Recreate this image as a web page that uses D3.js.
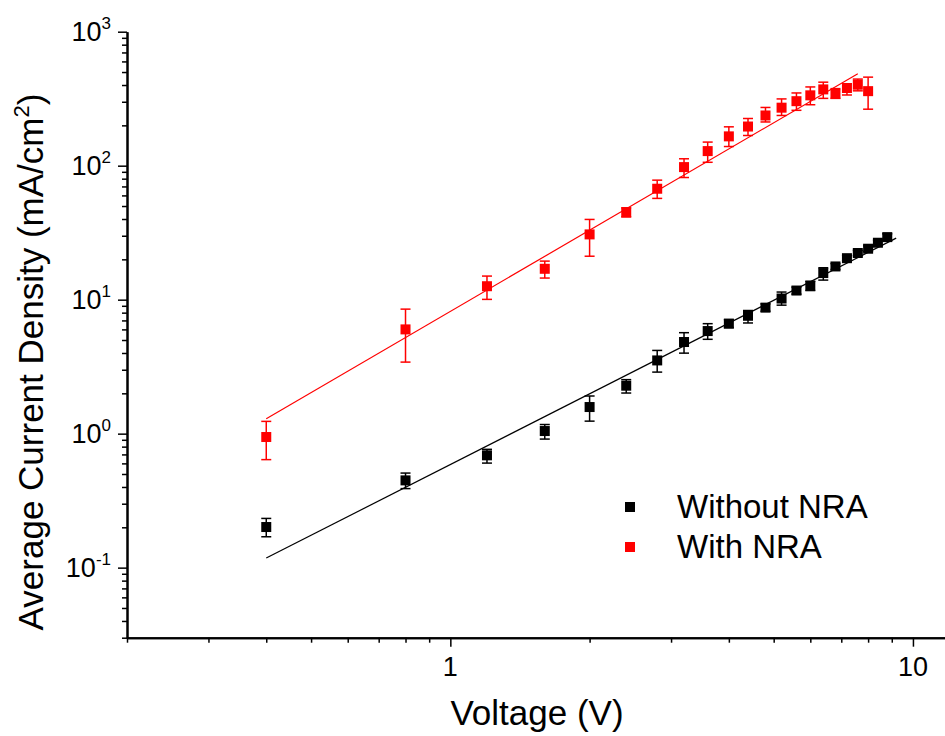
<!DOCTYPE html>
<html>
<head>
<meta charset="utf-8">
<script src="https://cdn.jsdelivr.net/npm/d3@7"></script>
<style>
  body { margin: 0; background: #fff; }
  svg { display: block; font-family: Arial, "Liberation Sans", sans-serif; }
</style>
</head>
<body>
<svg id="chart" width="945" height="736"></svg>
<script>
// voltage steps (V)
var voltsBlack = [0.4, 0.8, 1.2, 1.6, 2.0, 2.4, 2.8, 3.2, 3.6, 4.0, 4.4, 4.8, 5.2, 5.6, 6.0, 6.4, 6.8, 7.2, 7.6, 8.0, 8.4, 8.8];
var voltsRed = [0.4, 0.8, 1.2, 1.6, 2.0, 2.4, 2.8, 3.2, 3.6, 4.0, 4.4, 4.8, 5.2, 5.6, 6.0, 6.4, 6.8, 7.2, 7.6, 8.0];

// Without NRA (mA/cm2) and error bar ends
var jBlack   = [0.201, 0.448, 0.689, 1.046, 1.58, 2.28, 3.52, 4.83, 5.83, 6.62, 7.58, 8.72, 10.2, 11.7, 12.7, 15.8, 17.7, 20.4, 22.3, 24.0, 26.6, 29.3];
var jBlackHi = [0.233, 0.508, 0.764, 1.17, 1.91, 2.53, 4.18, 5.67, 6.62, 7.1, 8.3, 9.3, 11.4, 12.4, 13.7, 17.3, 18.6, 21.3, 23.3, 25.2, 27.8, 31.0];
var jBlackLo = [0.170, 0.389, 0.603, 0.911, 1.24, 2.01, 2.88, 3.99, 5.06, 6.2, 6.7, 8.2, 9.1, 11.0, 11.7, 14.0, 16.8, 19.5, 21.3, 22.9, 25.4, 27.6];

// With NRA
var jRed   = [0.944, 6.0, 12.6, 17.0, 30.7, 44.8, 67.3, 97.6, 128.5, 165.5, 196, 237, 271, 303, 335, 371, 344, 380, 402, 360];
var jRedHi = [1.235, 8.5, 15.0, 19.4, 39.7, 48.5, 78, 112.6, 150, 195, 225, 272, 315, 349, 387, 420, 376, 409, 443, 458];
var jRedLo = [0.64, 3.42, 10.05, 14.5, 21.1, 41.5, 57, 81.6, 106, 139, 168, 212, 237, 259, 285, 318, 318, 337, 362, 264];

// fitted lines (end points)
var fitBlack = [[0.4, 0.118], [9.2, 28.8]];
var fitRed = [[0.4, 1.29], [7.6, 486]];

var yMajor = [0.1, 1, 10, 100, 1000];
var xMajor = [1, 10];
var seriesNames = ['Without NRA', 'With NRA'];
var seriesColors = ['#000000', '#ff0000'];

var svg = d3.select('#chart');
var plotLeft = 127, plotTop = 31.7, plotBottom = 637.7;
var decadeX = 462.6;

var x = d3.scaleLog().domain([0.2, 12]).range([plotLeft, plotLeft + decadeX * Math.log10(60)]);
var y = d3.scaleLog().domain([0.03, 1000]).range([plotBottom, plotTop]);

function minorsOf(scale) {
    var d = scale.domain(), out = [];
    var lo = Math.floor(Math.log10(d[0])), hi = Math.ceil(Math.log10(d[1]));
    for (var e = lo; e < hi; e++) {
        for (var k = 2; k <= 9; k++) {
            var v = k * Math.pow(10, e);
            if (v >= d[0] * 0.999 && v <= d[1] * 1.001) out.push(v);
        }
    }
    return out;
}

function styleAxis(g) {
    g.select('.domain').attr('stroke', '#000').attr('stroke-width', 2);
    g.selectAll('.tick line').attr('stroke', '#000').attr('stroke-width', 1.5);
    g.selectAll('.tick text').remove();
}

// y axis
svg.append('g').attr('transform', 'translate(' + plotLeft + ',0)')
    .call(d3.axisLeft(y).tickValues(minorsOf(y)).tickSize(5).tickSizeOuter(0))
    .call(styleAxis);
svg.append('g').attr('transform', 'translate(' + plotLeft + ',0)')
    .call(d3.axisLeft(y).tickValues(yMajor).tickSize(9).tickSizeOuter(0))
    .call(styleAxis);

// x axis
svg.append('g').attr('transform', 'translate(0,' + plotBottom + ')')
    .call(d3.axisBottom(x).tickValues(minorsOf(x)).tickSize(5).tickSizeOuter(0))
    .call(styleAxis);
svg.append('g').attr('transform', 'translate(0,' + plotBottom + ')')
    .call(d3.axisBottom(x).tickValues(xMajor).tickSize(9).tickSizeOuter(0))
    .call(styleAxis);

// y tick labels 10^n
var yl = svg.selectAll('text.ylab').data(yMajor).enter().append('text')
    .attr('class', 'ylab')
    .attr('x', 111)
    .attr('y', function (d) { return y(d) + 9; })
    .attr('text-anchor', 'end')
    .attr('font-size', 27)
    .attr('fill', '#000');
yl.append('tspan').text('10');
yl.append('tspan').attr('font-size', 17).attr('dy', -12)
    .text(function (d) { return Math.round(Math.log10(d)); });

// x tick labels
svg.selectAll('text.xlab').data(xMajor).enter().append('text')
    .attr('class', 'xlab')
    .attr('x', function (d) { return x(d); })
    .attr('y', plotBottom + 38)
    .attr('text-anchor', 'middle')
    .attr('font-size', 27)
    .attr('fill', '#000')
    .text(function (d) { return d; });

// axis titles
svg.append('text')
    .attr('x', 537).attr('y', 725)
    .attr('text-anchor', 'middle')
    .attr('font-size', 35)
    .text('Voltage (V)');

var yt = svg.append('text')
    .attr('transform', 'translate(43,362) rotate(-90)')
    .attr('text-anchor', 'middle')
    .attr('font-size', 35);
yt.append('tspan').text('Average Current Density (mA/cm');
yt.append('tspan').attr('font-size', 22).attr('dy', -14).text('2');
yt.append('tspan').attr('dy', 14).text(')');

// fit lines
var line = d3.line()
    .x(function (d) { return x(d[0]); })
    .y(function (d) { return y(d[1]); });

svg.append('path').attr('d', line(fitBlack)).attr('stroke', seriesColors[0])
    .attr('stroke-width', 1.2).attr('fill', 'none');
svg.append('path').attr('d', line(fitRed)).attr('stroke', seriesColors[1])
    .attr('stroke-width', 1.2).attr('fill', 'none');

function drawSeries(volts, vals, hi, lo, color) {
    var pts = volts.map(function (v, i) {
        return {v: v, j: vals[i], hi: hi[i], lo: lo[i]};
    });
    var g = svg.append('g');
    var eb = g.selectAll('g.err').data(pts).enter().append('g').attr('class', 'err')
        .attr('stroke', color).attr('stroke-width', 1.5);
    eb.append('line')
        .attr('x1', function (d) { return x(d.v); })
        .attr('x2', function (d) { return x(d.v); })
        .attr('y1', function (d) { return y(d.hi); })
        .attr('y2', function (d) { return y(d.lo); });
    eb.append('line')
        .attr('x1', function (d) { return x(d.v) - 5; })
        .attr('x2', function (d) { return x(d.v) + 5; })
        .attr('y1', function (d) { return y(d.hi); })
        .attr('y2', function (d) { return y(d.hi); });
    eb.append('line')
        .attr('x1', function (d) { return x(d.v) - 5; })
        .attr('x2', function (d) { return x(d.v) + 5; })
        .attr('y1', function (d) { return y(d.lo); })
        .attr('y2', function (d) { return y(d.lo); });
    g.selectAll('rect').data(pts).enter().append('rect')
        .attr('x', function (d) { return x(d.v) - 5; })
        .attr('y', function (d) { return y(d.j) - 5; })
        .attr('width', 10).attr('height', 10)
        .attr('fill', color);
}

drawSeries(voltsBlack, jBlack, jBlackHi, jBlackLo, seriesColors[0]);
drawSeries(voltsRed, jRed, jRedHi, jRedLo, seriesColors[1]);

// legend
var lg = svg.selectAll('g.legend').data(seriesNames).enter().append('g')
    .attr('class', 'legend')
    .attr('transform', function (d, i) { return 'translate(0,' + (i * 40) + ')'; });
lg.append('rect')
    .attr('x', 625).attr('y', 502).attr('width', 10).attr('height', 10)
    .attr('fill', function (d, i) { return seriesColors[i]; });
lg.append('text')
    .attr('x', 677).attr('y', 518)
    .attr('font-size', 33)
    .text(function (d) { return d; });
</script>
</body>
</html>
